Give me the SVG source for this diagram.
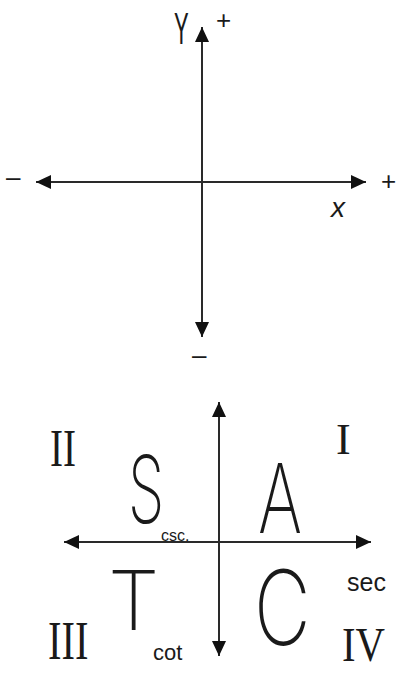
<svg xmlns="http://www.w3.org/2000/svg" width="408" height="673" viewBox="0 0 408 673">
<style>
.ax{stroke:#2a2a2a;stroke-width:2;fill:none}
.h{font-family:"Liberation Sans",Arial,sans-serif;fill:#1a1a1a}
.big{font-family:Inter,"Liberation Sans",sans-serif;font-weight:200;fill:#1a1a1a}
.r{font-family:"Liberation Serif","Times New Roman",serif;fill:#1a1a1a}
</style>
<defs>
<marker id="ah" markerWidth="16" markerHeight="14" refX="15" refY="7" orient="auto" markerUnits="userSpaceOnUse">
<path d="M0,0 L15,7 L0,14 z" fill="#111"/>
</marker>
</defs>
<rect width="408" height="673" fill="#fff"/>
<g id="connectors">
<line class="ax" x1="202" y1="182" x2="202" y2="27" marker-end="url(#ah)"/>
<line class="ax" x1="202" y1="182" x2="202" y2="337" marker-end="url(#ah)"/>
<line class="ax" x1="202" y1="182" x2="36" y2="182" marker-end="url(#ah)"/>
<line class="ax" x1="202" y1="182" x2="366" y2="182" marker-end="url(#ah)"/>
<line class="ax" x1="219" y1="542" x2="219" y2="402" marker-end="url(#ah)"/>
<line class="ax" x1="219" y1="542" x2="219" y2="656" marker-end="url(#ah)"/>
<line class="ax" x1="219" y1="542" x2="64" y2="542" marker-end="url(#ah)"/>
<line class="ax" x1="219" y1="542" x2="371" y2="542" marker-end="url(#ah)"/>
</g>
<g id="top-labels">
<text class="h" x="174" y="44" font-size="44" transform="translate(174 44) scale(0.5 1) translate(-174 -44)">Y</text>
<text class="h" x="216" y="29" font-size="26">+</text>
<text class="h" x="6" y="186" font-size="26">–</text>
<text class="h" x="331" y="217" font-size="28" font-style="italic">x</text>
<text class="h" x="381" y="190" font-size="26">+</text>
<text class="h" x="192" y="364" font-size="26">–</text>
</g>
<g id="quadrant-II"><text class="r" x="50" y="466" font-size="52" transform="translate(50 466) scale(0.75 1) translate(-50 -466)">II</text></g>
<g id="quadrant-I"><text class="r" x="336" y="454" font-size="44">I</text></g>
<g id="quadrant-III"><text class="r" x="48" y="659" font-size="54" transform="translate(48 659) scale(0.75 1) translate(-48 -659)">III</text></g>
<g id="quadrant-IV"><text class="r" x="342" y="661" font-size="48" transform="translate(342 661) scale(0.85 1) translate(-342 -661)">IV</text></g>
<g id="S"><text class="big" x="128" y="523" font-size="94" transform="translate(128 523) scale(0.62 1) translate(-128 -523)">S</text>
<text class="h" x="161" y="541" font-size="16">csc.</text></g>
<g id="A"><text class="big" x="258" y="533" font-size="96" transform="translate(258 533) scale(0.7 1) translate(-258 -533)">A</text></g>
<g id="T"><text class="big" x="108" y="630" font-size="82">T</text>
<text class="h" x="153" y="660" font-size="22">cot</text></g>
<g id="C"><text class="big" x="254" y="645" font-size="104" transform="translate(254 645) scale(0.75 1) translate(-254 -645)">C</text>
<text class="h" x="347" y="591" font-size="25">sec</text></g>
</svg>
